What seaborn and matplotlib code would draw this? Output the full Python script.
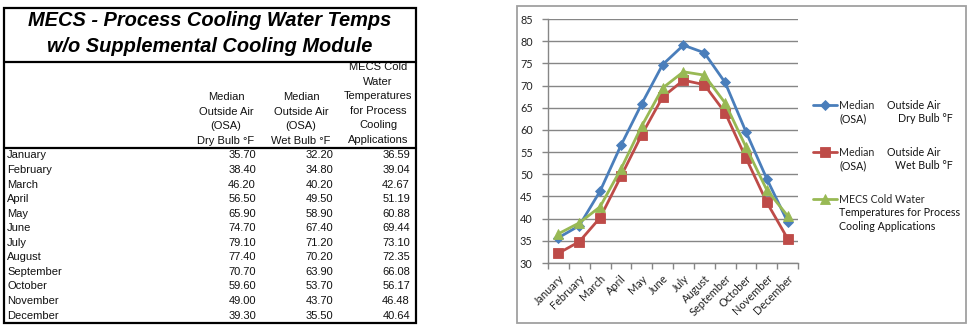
import matplotlib
matplotlib.use("Agg")
import matplotlib.pyplot as plt
from matplotlib.patches import Rectangle
import seaborn as sns
import pandas as pd

# ---- data -------------------------------------------------------------
months = ["January", "February", "March", "April", "May", "June", "July",
          "August", "September", "October", "November", "December"]
dry_bulb = [35.70, 38.40, 46.20, 56.50, 65.90, 74.70, 79.10, 77.40, 70.70, 59.60, 49.00, 39.30]
wet_bulb = [32.20, 34.80, 40.20, 49.50, 58.90, 67.40, 71.20, 70.20, 63.90, 53.70, 43.70, 35.50]
cold_water = [36.59, 39.04, 42.67, 51.19, 60.88, 69.44, 73.10, 72.35, 66.08, 56.17, 46.48, 40.64]

title_lines = ["MECS - Process Cooling Water Temps", "w/o Supplemental Cooling Module"]
header_dry = ["Median", "Outside Air", "(OSA)", "Dry Bulb °F"]
header_wet = ["Median", "Outside Air", "(OSA)", "Wet Bulb °F"]
header_cold = ["MECS Cold", "Water", "Temperatures", "for Process", "Cooling", "Applications"]

# legend text: first line goes in the legend, the rest is laid out beside/below it
legend_first = ["Median", "Median", "MECS Cold Water"]
legend_right = ["Outside Air", "Outside Air", None]
legend_more = [["(OSA)"], ["(OSA)"], ["Temperatures for Process", "Cooling Applications"]]
legend_more_right = ["Dry Bulb °F", "Wet Bulb °F", None]

# ---- figure -----------------------------------------------------------
sns.set_theme(style="white")
plt.rcParams["font.family"] = ["Liberation Sans", "DejaVu Sans"]
chart_font = ["Lato", "DejaVu Sans"]

W, H = 974, 325
fig = plt.figure(figsize=(W / 100, H / 100), dpi=100)
fig.patch.set_facecolor("white")

# pixel-space overlay for the table and the chart frame
ov = fig.add_axes([0, 0, 1, 1])
ov.set_xlim(0, W)
ov.set_ylim(H, 0)
ov.set_axis_off()

# table header (column titles)
line_h = 14.6
for i, s in enumerate(header_dry):
    ov.text(226, 97 + i * line_h, s, ha="center", va="center", fontsize=8, color="#111", zorder=1)
for i, s in enumerate(header_wet):
    ov.text(301, 97 + i * line_h, s, ha="center", va="center", fontsize=8, color="#111", zorder=1)
for i, s in enumerate(header_cold):
    ov.text(378, 67 + i * line_h, s, ha="center", va="center", fontsize=8, color="#111", zorder=1)

# title cell covers the clipped top of the header text
ov.add_patch(Rectangle((5, 8), 411, 54, facecolor="white", edgecolor="none", zorder=2))
for y, s in zip((21, 47), title_lines):
    ov.text(210, y, s, ha="center", va="center", fontsize=14.4,
            fontweight="bold", fontstyle="italic", color="black", zorder=3)

# table rows
row0, row_h = 155.5, 14.55
for i, m in enumerate(months):
    y = row0 + i * row_h
    ov.text(7, y, m, ha="left", va="center", fontsize=8, color="#111", zorder=3)
    ov.text(256, y, f"{dry_bulb[i]:.2f}", ha="right", va="center", fontsize=8, color="#111", zorder=3)
    ov.text(333, y, f"{wet_bulb[i]:.2f}", ha="right", va="center", fontsize=8, color="#111", zorder=3)
    ov.text(410, y, f"{cold_water[i]:.2f}", ha="right", va="center", fontsize=8, color="#111", zorder=3)

# table borders
ov.add_patch(Rectangle((4, 7.5), 412, 315, facecolor="none", edgecolor="black", lw=1.6, zorder=4))
ov.plot([4, 416], [62, 62], color="black", lw=1.6, zorder=4)
ov.plot([4, 416], [148, 148], color="black", lw=1.6, zorder=4)

# chart frame
ov.add_patch(Rectangle((517, 6), 449, 317, facecolor="none", edgecolor="#a0a0a0", lw=1.3, zorder=4))

# ---- line chart ---------------------------------------------------------
ax = fig.add_axes([548 / W, (H - 263) / H, 250 / W, 244 / H])
ax.patch.set_alpha(0)

df = pd.DataFrame({"pos": list(range(len(months))), "month": months,
                   "dry": dry_bulb, "wet": wet_bulb, "cold": cold_water})

series = [
    ("dry", "#4A7EBB", "D", 5.0),
    ("wet", "#BE4B48", "s", 7.0),
    ("cold", "#98B954", "^", 7.0),
]
for (col, color, marker, ms), label in zip(series, legend_first):
    sns.lineplot(data=df, x="pos", y=col, ax=ax, color=color, linewidth=2.0,
                 marker=marker, markersize=ms, markeredgecolor=color,
                 markeredgewidth=0.6, label=label, zorder=3)

ax.set_xlim(-0.5, len(months) - 0.5)
ax.set_ylim(30, 85)
ax.set_yticks(range(30, 86, 5))
ax.set_xticks(range(len(months)))
ax.set_xticklabels(months, rotation=45, ha="right", rotation_mode="anchor",
                   fontsize=7.9, family=chart_font, color="#222")
ax.set_xticks([i - 0.5 for i in range(len(months) + 1)], minor=True)
for lab in ax.get_yticklabels():
    lab.set_fontfamily(chart_font)
ax.tick_params(axis="y", labelsize=7.8, labelcolor="#222", length=4, width=1,
               color="#868686", direction="out", left=True, pad=7)
ax.tick_params(axis="x", which="major", length=0, pad=7)
ax.tick_params(axis="x", which="minor", length=4, width=1, color="#868686",
               direction="out", bottom=True)
ax.set_xlabel("")
ax.set_ylabel("")
ax.yaxis.grid(True, color="#868686", lw=1)
ax.set_axisbelow(True)
for side in ("top", "right"):
    ax.spines[side].set_visible(False)
for side in ("left", "bottom"):
    ax.spines[side].set_color("#868686")
    ax.spines[side].set_linewidth(1)

leg_size = 7.7
leg = ax.legend(loc="upper left", bbox_to_anchor=(813 / W, 1 - 100 / H),
                bbox_transform=fig.transFigure, frameon=False,
                prop={"family": chart_font, "size": leg_size},
                handlelength=2.2, handletextpad=0.25, labelspacing=3.35,
                borderaxespad=0, borderpad=0)

# remaining legend lines, laid out from where the legend put each first line
fig.canvas.draw()
leg_line = 13.5
for i, t in enumerate(leg.get_texts()):
    bb = t.get_window_extent()
    x0 = bb.x0
    yc = H - (bb.y0 + bb.y1) / 2
    if legend_right[i]:
        ov.text(887, yc, legend_right[i], ha="left", va="center",
                fontsize=leg_size, family=chart_font, color="#111")
    for k, s in enumerate(legend_more[i], start=1):
        ov.text(x0, yc + k * leg_line, s, ha="left", va="center",
                fontsize=leg_size, family=chart_font, color="#111")
    if legend_more_right[i]:
        ov.text(953, yc + leg_line, legend_more_right[i], ha="right", va="center",
                fontsize=leg_size, family=chart_font, color="#111")

fig.savefig("out.png", dpi=100, facecolor="white")
